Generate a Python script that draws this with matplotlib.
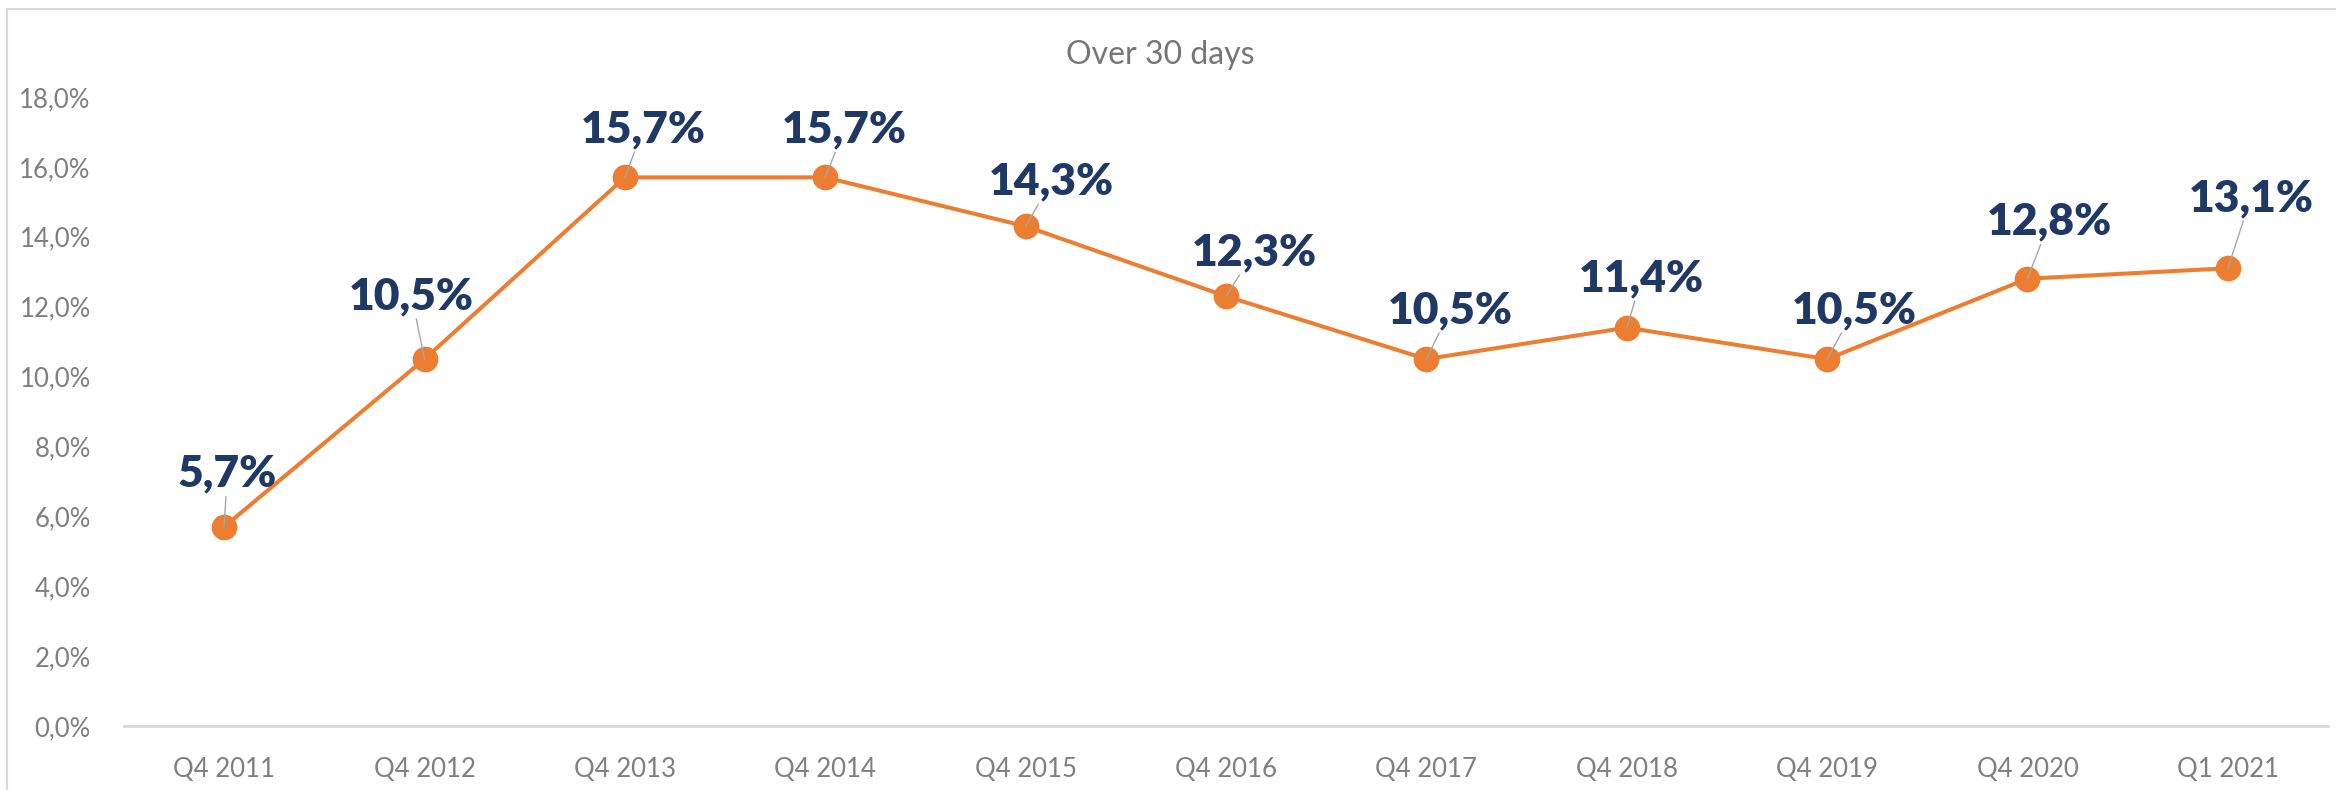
import matplotlib
matplotlib.use("Agg")
import matplotlib.pyplot as plt
from matplotlib.lines import Line2D
from matplotlib.ticker import FuncFormatter

quarters = ["Q4 2011", "Q4 2012", "Q4 2013", "Q4 2014", "Q4 2015", "Q4 2016",
            "Q4 2017", "Q4 2018", "Q4 2019", "Q4 2020", "Q1 2021"]
share_over_30 = [5.7, 10.5, 15.7, 15.7, 14.3, 12.3, 10.5, 11.4, 10.5, 12.8, 13.1]

# label placement (pixels from the marker), as laid out in the original chart
label_offsets = [(3, 53), (-13, 63), (18, 48), (19, 48), (26, 45), (28, 44),
                 (24, 49), (15, 49), (27, 49), (22, 57), (23, 70)]

W, H, DPI = 2336, 790, 100
orange = "#ED7D31"
navy = "#1F3864"
grey = "#7F7F7F"

plt.rcParams["font.family"] = ["Lato", "DejaVu Sans"]

fig = plt.figure(figsize=(W / DPI, H / DPI), dpi=DPI)
fig.patch.set_facecolor("white")
ax = fig.add_axes([124 / W, 1 - 726 / H, (2328 - 124) / W, (726 - 97) / H])

x = list(range(len(quarters)))
ax.plot(x, share_over_30, color=orange, linewidth=2.9, marker="o",
        markersize=17.5, markerfacecolor=orange, markeredgecolor=orange,
        solid_joinstyle="round", zorder=2, clip_on=False)

for xi, v, (dx, dy) in zip(x, share_over_30, label_offsets):
    ax.annotate(f"{v:.1f}%".replace(".", ","), xy=(xi, v),
                xytext=(dx, dy), textcoords="offset pixels",
                ha="center", va="center", fontsize=32, fontweight="heavy",
                color=navy, zorder=4,
                arrowprops=dict(arrowstyle="-", color="#A6A6A6", lw=1.0,
                                shrinkA=0, shrinkB=0))

ax.set_xlim(-0.5, len(quarters) - 0.5)
ax.set_ylim(0, 18)
ax.set_yticks(range(0, 19, 2))
ax.yaxis.set_major_formatter(FuncFormatter(lambda v, p: f"{v:.1f}%".replace(".", ",")))
ax.set_xticks(x)
ax.set_xticklabels(quarters)
ax.tick_params(axis="both", length=0, labelsize=18.5, labelcolor=grey)
ax.tick_params(axis="x", pad=22)
ax.tick_params(axis="y", pad=24)

for side in ["top", "right", "left"]:
    ax.spines[side].set_visible(False)
ax.spines["bottom"].set_color("#D9D9D9")
ax.spines["bottom"].set_linewidth(2)

fig.text(1160 / W, 1 - 55 / H, "Over 30 days", ha="center", va="center",
         fontsize=23, color="#767676")

# outer chart frame (top and left edges visible)
fig.add_artist(Line2D([7 / W, 1], [1 - 9 / H, 1 - 9 / H], color="#D9D9D9", lw=1.5))
fig.add_artist(Line2D([7 / W, 7 / W], [0, 1 - 9 / H], color="#D9D9D9", lw=1.5))

fig.savefig("out.png", dpi=DPI, facecolor="white")
